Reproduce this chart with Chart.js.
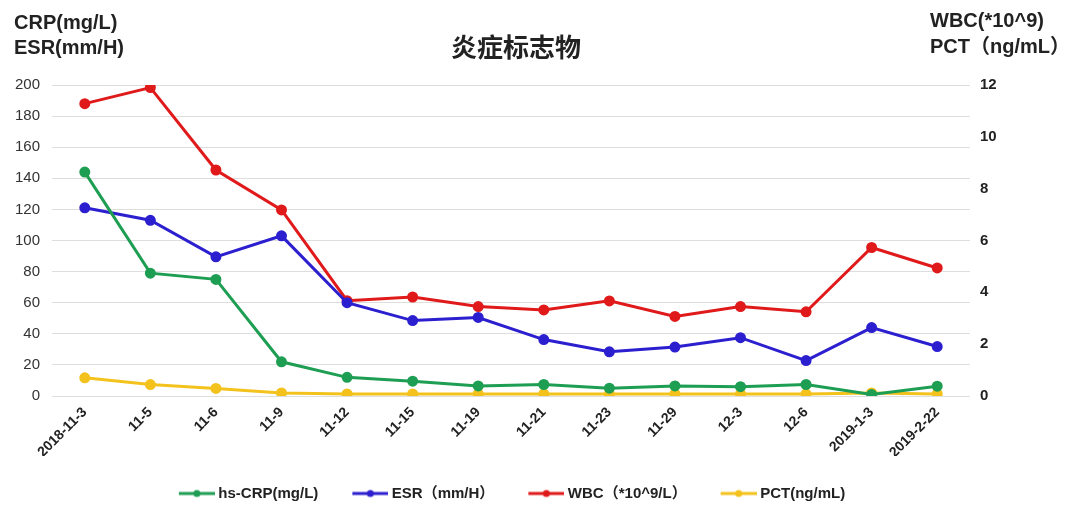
<!DOCTYPE html>
<html>
<head>
<meta charset="utf-8">
<script src="https://cdn.jsdelivr.net/npm/chart.js@4"></script>
<style>
    html, body { margin: 0; padding: 0; background: #fff; }
    #wrap { width: 1080px; height: 519px; position: relative; }
</style>
</head>
<body>
<div id="wrap"><canvas id="markerChart"></canvas></div>
<script>
const dates = ['2018-11-3', '11-5', '11-6', '11-9', '11-12', '11-15', '11-19', '11-21', '11-23', '11-29', '12-3', '12-6', '2019-1-3', '2019-2-22'];
const crp = [144, 79, 75, 22, 12, 9.5, 6.5, 7.4, 5, 6.5, 6, 7.4, 1, 6.3];
const esr = [121, 113, 89.5, 103, 60, 48.5, 50.5, 36.3, 28.4, 31.5, 37.5, 22.8, 44, 31.8];
const wbc = [11.28, 11.9, 8.72, 7.18, 3.68, 3.82, 3.45, 3.32, 3.67, 3.07, 3.45, 3.25, 5.73, 4.94];
const pct = [0.7, 0.44, 0.29, 0.12, 0.08, 0.08, 0.08, 0.08, 0.08, 0.08, 0.08, 0.08, 0.12, 0.08];
const leftTicks = [0, 20, 40, 60, 80, 100, 120, 140, 160, 180, 200];
const rightTicks = [0, 2, 4, 6, 8, 10, 12];

const FONT = '"Liberation Sans", Arial, "Noto Sans CJK SC", sans-serif';
const CJK = '"Noto Sans CJK SC", "Liberation Sans", sans-serif';

// legend mark: line with a dot, drawn in the right part so text sits close to it
function legendMark(color) {
    const c = document.createElement('canvas');
    c.width = 44; c.height = 10;
    const g = c.getContext('2d');
    g.strokeStyle = color;
    g.lineWidth = 3;
    g.beginPath(); g.moveTo(8, 5); g.lineTo(44, 5); g.stroke();
    g.fillStyle = color;
    g.beginPath(); g.arc(26, 5, 3.5, 0, Math.PI * 2); g.fill();
    return c;
}

function series(label, data, color, axis) {
    return {
        label, data, yAxisID: axis,
        borderColor: color, backgroundColor: color,
        borderWidth: 3, pointRadius: 4, pointHoverRadius: 4,
        pointStyle: 'circle', tension: 0,
        legendMark: legendMark(color)
    };
}

const headings = {
    id: 'headings',
    afterLayout(chart) {
        // reference legend sits a little left of centre
        chart.legend.left -= 30;
        chart.legend.right -= 30;
    },
    afterDraw(chart) {
        const ctx = chart.ctx;
        ctx.save();
        ctx.fillStyle = '#222';
        ctx.textBaseline = 'middle';
        ctx.textAlign = 'center';
        ctx.font = 'bold 26px ' + CJK;
        ctx.fillText('炎症标志物', 516, 47);
        ctx.textAlign = 'left';
        ctx.font = 'bold 20px ' + FONT;
        ctx.fillText('CRP(mg/L)', 14, 23);
        ctx.fillText('ESR(mm/H)', 14, 48);
        ctx.fillText('WBC(*10^9)', 930, 21);
        ctx.fillText('PCT（ng/mL）', 930, 47);
        ctx.restore();
    }
};

const chart = new Chart(document.getElementById('markerChart'), {
    type: 'line',
    data: {
        labels: dates,
        datasets: [
            series('hs-CRP(mg/L)', crp, '#1e9e52', 'y'),
            series('ESR（mm/H）', esr, '#2b1fcf', 'y'),
            series('WBC（*10^9/L）', wbc, '#e01a1a', 'y1'),
            series('PCT(ng/mL)', pct, '#f4c21c', 'y1')
        ]
    },
    options: {
        responsive: true,
        maintainAspectRatio: false,
        animation: false,
        layout: { padding: { top: 85, left: 0, right: 0, bottom: 8 } },
        plugins: {
            tooltip: { enabled: false },
            title: { display: false },
            legend: {
                position: 'bottom',
                labels: {
                    color: '#222',
                    font: { family: FONT, size: 15, weight: 'bold' },
                    boxWidth: 36,
                    pointStyleWidth: 36,
                    padding: 30,
                    usePointStyle: true,
                    generateLabels(ch) {
                        return ch.data.datasets.map((ds, i) => ({
                            text: ds.label,
                            fillStyle: ds.borderColor,
                            strokeStyle: ds.borderColor,
                            pointStyle: ds.legendMark,
                            lineWidth: 0,
                            hidden: false,
                            datasetIndex: i,
                            fontColor: '#222'
                        }));
                    }
                }
            }
        },
        scales: {
            x: {
                offset: true,
                grid: { display: false, drawTicks: false },
                border: { display: false },
                ticks: {
                    color: '#222',
                    font: { family: FONT, size: 14, weight: 'bold' },
                    maxRotation: 45, minRotation: 45,
                    autoSkip: false,
                    padding: 8
                },
                afterFit(s) { s.height = 60; }
            },
            y: {
                position: 'left',
                min: 0, max: 200,
                afterBuildTicks(s) { s.ticks = leftTicks.map(v => ({ value: v })); },
                grid: { color: '#dedede', lineWidth: 1, drawTicks: false },
                border: { display: false },
                ticks: {
                    color: '#333',
                    font: { family: FONT, size: 15 },
                    padding: 12
                },
                afterFit(s) { s.width = 52; }
            },
            y1: {
                position: 'right',
                min: 0, max: 12,
                afterBuildTicks(s) { s.ticks = rightTicks.map(v => ({ value: v })); },
                grid: { display: false, drawTicks: false },
                border: { display: false },
                ticks: {
                    color: '#222',
                    font: { family: FONT, size: 15, weight: 'bold' },
                    padding: 10
                },
                afterFit(s) { s.width = 110; }
            }
        }
    },
    plugins: [headings]
});
</script>
</body>
</html>
